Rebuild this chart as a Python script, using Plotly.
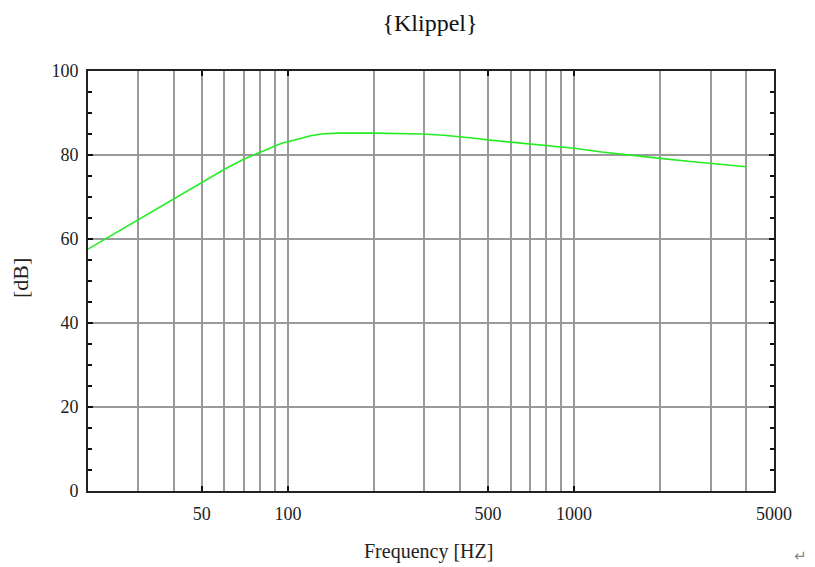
import plotly.graph_objects as go

# Data
freq_hz = [20, 30, 40, 50, 60, 70, 80, 90, 95, 103, 111, 120, 131, 150, 200, 294, 350, 400, 450,
           500, 600, 700, 800, 1000, 1250, 1600, 2000, 2500, 3000, 3600, 4000]
level_db = [57.6, 64.6, 69.4, 73.4, 76.6, 79.0, 80.6, 82.2, 82.8, 83.4, 84.0, 84.6, 85.0, 85.2, 85.2, 85.0,
            84.7, 84.4, 84.0, 83.6, 83.1, 82.7, 82.2, 81.6, 80.7, 80.0, 79.2, 78.5, 78.0, 77.5, 77.2]

x_major_ticks = [50, 100, 500, 1000, 5000]
x_major_labels = ["50", "100", "500", "1000", "5000"]
x_grid_vals = [30, 40, 50, 60, 70, 80, 90, 100, 200, 300, 400, 500, 600, 700, 800, 900,
               1000, 2000, 3000, 4000]
y_ticks = [0, 20, 40, 60, 80, 100]

title_text = "{Klippel}"
x_title = "Frequency [HZ]"
y_title = "[dB]"

serif = "Liberation Serif, Times New Roman, serif"

fig = go.Figure()
fig.add_trace(go.Scatter(
    x=freq_hz, y=level_db, mode="lines",
    line=dict(color="#22ee22", width=1.6),
    showlegend=False, hoverinfo="skip",
))

fig.update_layout(
    width=815, height=567,
    margin=dict(l=88, r=41, t=71, b=76),
    paper_bgcolor="white", plot_bgcolor="white",
    title=dict(text=title_text, x=430 / 815, xref="container", xanchor="center",
               y=1 - 23 / 567, yref="container", yanchor="middle",
               font=dict(family=serif, size=24, color="#111")),
    font=dict(family=serif, size=18, color="#222"),
)

fig.update_xaxes(
    type="log", range=[1.30103, 3.69897],
    tickmode="array", tickvals=x_major_ticks, ticktext=x_major_labels,
    ticks="inside", ticklen=5, tickwidth=1.5, tickcolor="#111",
    showgrid=True, gridcolor="#9a9a9a", gridwidth=1.5,
    minor=dict(tickmode="array", tickvals=x_grid_vals, showgrid=True,
               gridcolor="#9a9a9a", gridwidth=1.5, ticks=""),
    showline=True, linecolor="#222", linewidth=2, mirror="ticks",
    zeroline=False, ticklabelstandoff=5,
    tickfont=dict(family=serif, size=18, color="#222"),
)

fig.update_yaxes(
    range=[0, 100], tickmode="array", tickvals=y_ticks,
    ticks="inside", ticklen=5, tickwidth=1.5, tickcolor="#111",
    showgrid=True, gridcolor="#9a9a9a", gridwidth=1.5,
    minor=dict(dtick=5, ticks="inside", ticklen=4, tickwidth=1.5, tickcolor="#111", showgrid=False),
    showline=True, linecolor="#222", linewidth=2, mirror="ticks",
    zeroline=False, ticklabelstandoff=4,
    tickfont=dict(family=serif, size=18, color="#222"),
)

fig.add_annotation(text=x_title, xref="paper", yref="paper", x=(428 - 88) / 686, y=(491 - 551) / 420,
                   xanchor="center", yanchor="middle", showarrow=False,
                   font=dict(family=serif, size=20, color="#222"))
fig.add_annotation(text=y_title, xref="paper", yref="paper", x=(20 - 88) / 686, y=(491 - 278) / 420,
                   xanchor="center", yanchor="middle", textangle=-90, showarrow=False,
                   font=dict(family=serif, size=22, color="#222"))
fig.add_annotation(text="↵", xref="paper", yref="paper", x=(800 - 88) / 686, y=(491 - 556) / 420,
                   xanchor="center", yanchor="middle", showarrow=False,
                   font=dict(family="DejaVu Sans", size=15, color="#888"))

fig.write_html("out.html")
